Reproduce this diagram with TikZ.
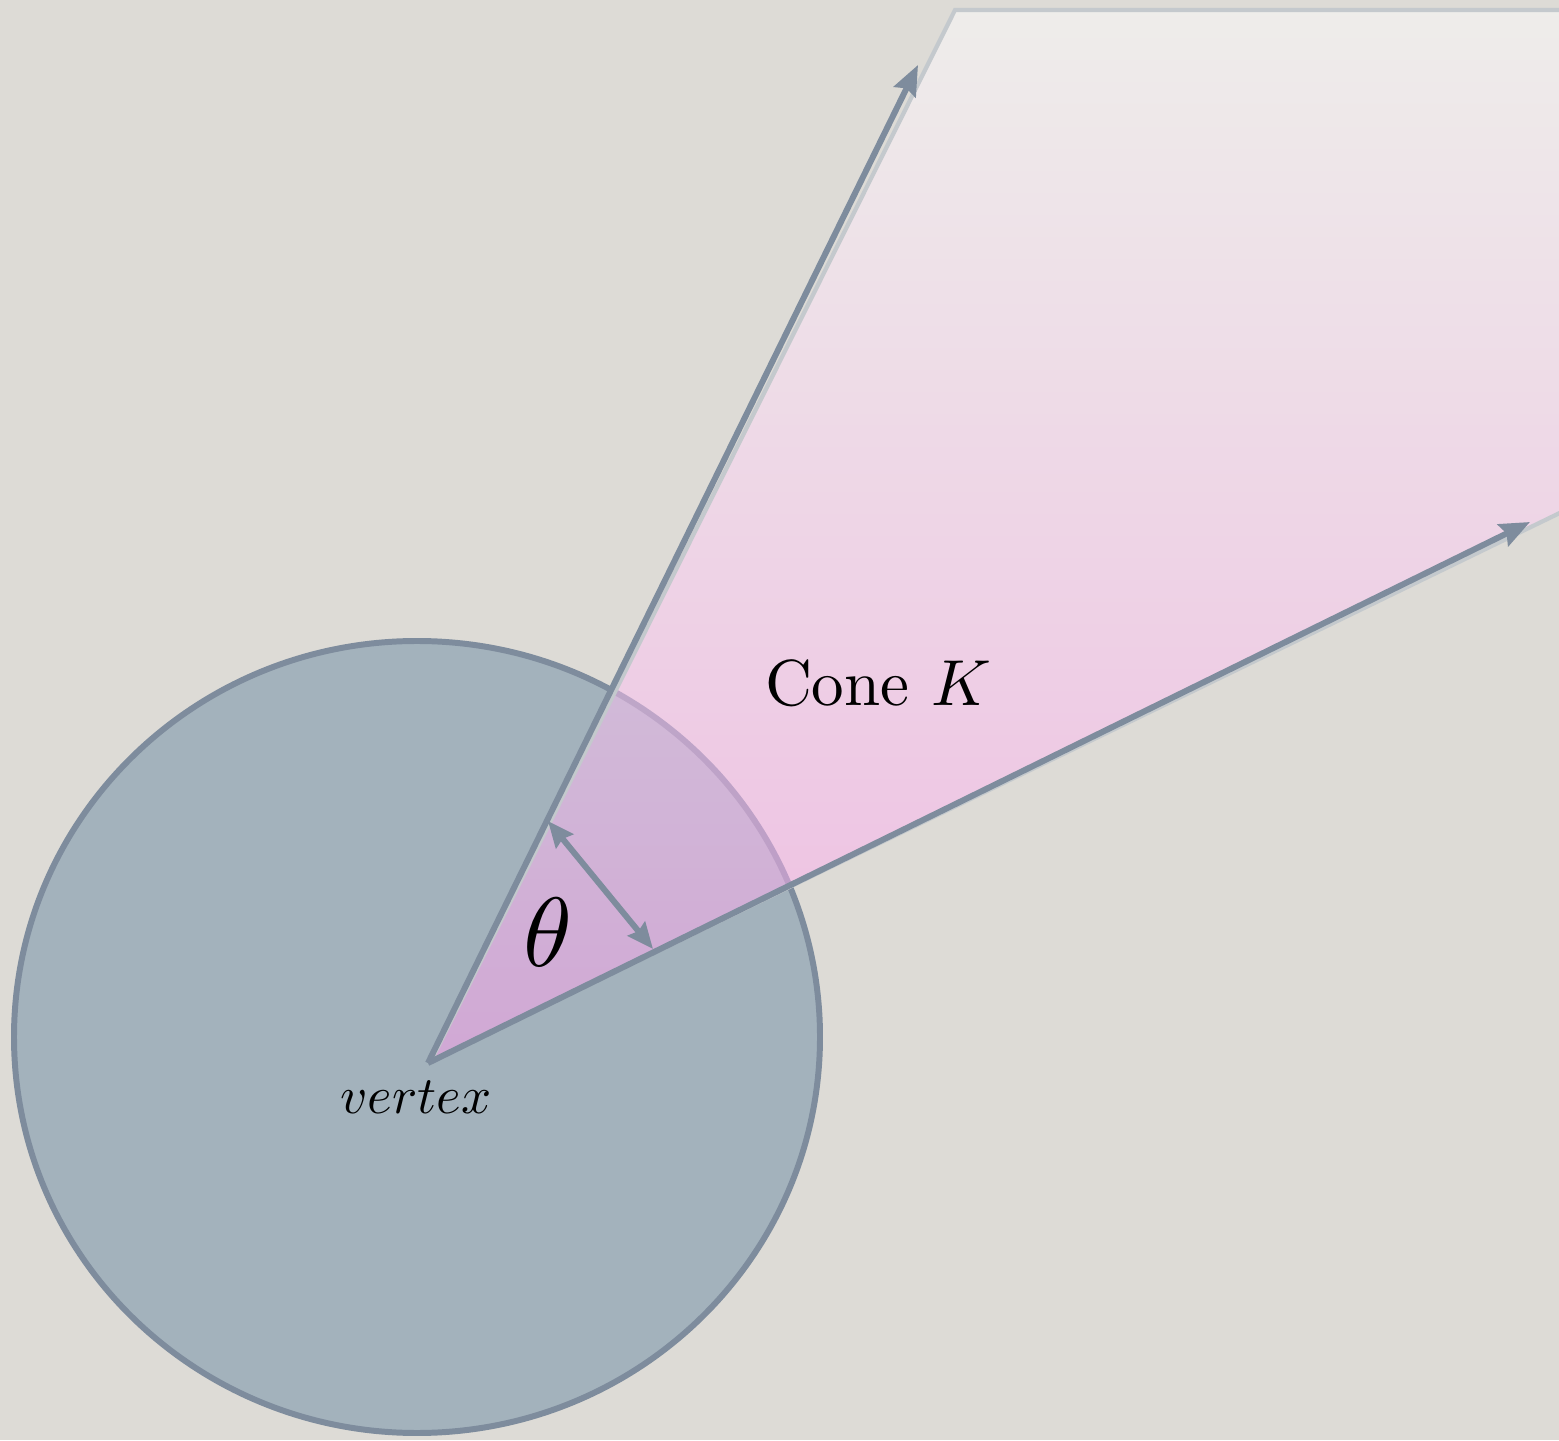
\documentclass[tikz,border=0pt]{standalone}
\usepackage{xcolor}
\usetikzlibrary{arrows.meta}
\definecolor{paper}{RGB}{221,219,214}
\definecolor{disc}{RGB}{163,178,188}
\definecolor{slate}{RGB}{126,140,157}
\definecolor{conepink}{RGB}{255,160,238}
\definecolor{coneedge}{RGB}{196,201,205}

\begin{document}
\begin{tikzpicture}[
    ray/.style={draw=slate,line width=1.7pt,-{Stealth[length=0.3cm,width=0.24cm,inset=0.04cm]}},
    gap/.style={draw=slate,line width=1.7pt,{Stealth[length=0.26cm,width=0.22cm,inset=0.03cm]}-{Stealth[length=0.26cm,width=0.22cm,inset=0.03cm]}},
    lbl/.style={inner sep=0pt,text=black}]
  \useasboundingbox (0,0) rectangle (15.59,14.40);
  \fill[paper] (0,0) rectangle (15.59,14.40);
  \clip (0,0) rectangle (15.59,14.40);
  % ball round the vertex
  \filldraw[fill=disc,draw=slate,line width=1.7pt] (4.17,4.03) ellipse [x radius=4.03,y radius=3.96];
  % the cone itself
  \coordinate (vertex) at (4.28,3.77);
  \coordinate (upTip) at (9.18,13.75);
  \coordinate (lowTip) at (15.30,9.18);
  \shade[top color=white,middle color=conepink!70!white,bottom color=conepink,fill opacity=0.5]
    (4.31,3.79) -- (9.55,14.30) -- (15.70,14.30) -- (15.70,9.32) -- cycle;
  \draw[coneedge,line width=1.2pt] (4.31,3.79) -- (9.55,14.30) -- (15.70,14.30);
  \draw[coneedge,line width=1.2pt] (4.31,3.79) -- (15.70,9.32);
  \draw[ray] (vertex) -- (upTip);
  \draw[ray] (vertex) -- (lowTip);
  % angle
  \coordinate (thA) at (5.48,6.19);
  \coordinate (thB) at (6.53,4.91);
  \draw[gap] (thA) -- (thB);
  \node[lbl,scale=2.8] (theta) at (5.48,5.08) {$\theta$};
  \node[lbl,scale=1.85] (coneK) at (8.78,7.57) {Cone $K$};
  \node[lbl,scale=1.5] (vlabel) at (4.16,3.43) {$vertex$};
\end{tikzpicture}
\end{document}
